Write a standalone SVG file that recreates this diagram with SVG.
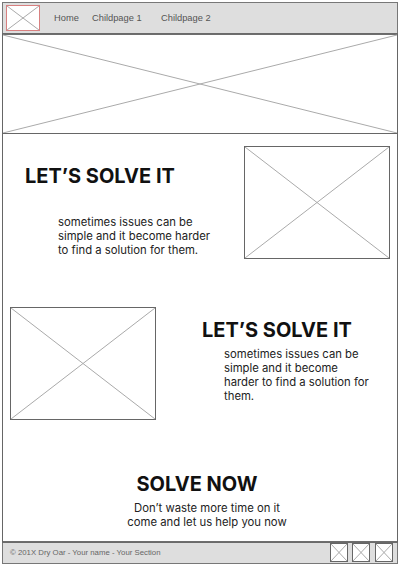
<svg xmlns="http://www.w3.org/2000/svg" width="400" height="566" viewBox="0 0 400 566">
<style>
.frame{fill:none;stroke:#666;stroke-width:1}
.bar{fill:#dedede;stroke:#777;stroke-width:1}
.ph{fill:#fff;stroke:#666;stroke-width:1}
.x{stroke:#aaa;stroke-width:1;fill:none}
.nav{font-family:"Liberation Sans",Arial,sans-serif;font-size:9.3px;fill:#555}
.h{font-family:Inter,"Liberation Sans",sans-serif;font-weight:700;font-size:20px;fill:#111}
.b{font-family:Inter,"Liberation Sans",sans-serif;font-size:11.3px;fill:#222}
.foot{font-family:"Liberation Sans",Arial,sans-serif;font-size:7.8px;fill:#666}
</style>
<rect x="0" y="0" width="400" height="566" fill="#fff"/>
<g id="page">
<rect class="frame" x="2.5" y="2.5" width="395" height="561"/>
</g>
<g id="header">
<rect class="bar" x="2.5" y="2.5" width="395" height="31.5"/>
<line x1="2.5" y1="34" x2="397.5" y2="34" stroke="#555" stroke-width="1.5"/>
<g id="logo">
<rect x="6.5" y="5.5" width="33" height="25" fill="#fff" stroke="#d88080" stroke-width="1"/>
<path class="x" d="M7 6L39 30M39 6L7 30"/>
</g>
<text class="nav" x="54" y="21">Home</text>
<text class="nav" x="92" y="21">Childpage 1</text>
<text class="nav" x="161" y="21">Childpage 2</text>
</g>
<g id="hero">
<path class="x" d="M3 35L397 133M397 35L3 133"/>
<line x1="2.5" y1="133.5" x2="397.5" y2="133.5" stroke="#666" stroke-width="1"/>
</g>
<g id="section1">
<text class="h" x="25" y="183">LET’S SOLVE IT</text>
<text class="b" x="58" y="226">sometimes issues can be</text>
<text class="b" x="58" y="240">simple and it become harder</text>
<text class="b" x="58" y="254">to find a solution for them.</text>
<g id="image1">
<rect class="ph" x="244.5" y="146.5" width="145" height="112"/>
<path class="x" d="M245 147L389 258M389 147L245 258"/>
</g>
</g>
<g id="section2">
<g id="image2">
<rect class="ph" x="10.5" y="307.5" width="145" height="112"/>
<path class="x" d="M11 308L155 419M155 308L11 419"/>
</g>
<text class="h" x="202" y="337">LET’S SOLVE IT</text>
<text class="b" x="224" y="358">sometimes issues can be</text>
<text class="b" x="224" y="372">simple and it become</text>
<text class="b" x="224" y="386">harder to find a solution for</text>
<text class="b" x="224" y="400">them.</text>
</g>
<g id="section3">
<text class="h" x="197" y="491" text-anchor="middle">SOLVE NOW</text>
<text class="b" x="207" y="512" text-anchor="middle">Don’t waste more time on it</text>
<text class="b" x="207" y="526" text-anchor="middle">come and let us help you now</text>
</g>
<g id="footer">
<rect class="bar" x="2.5" y="542" width="395" height="21.5"/>
<line x1="2.5" y1="542" x2="397.5" y2="542" stroke="#555" stroke-width="1.5"/>
<text class="foot" x="10" y="555">© 201X Dry Oar - Your name - Your Section</text>
<g id="icon1"><rect class="ph" x="330.5" y="543.5" width="17" height="18"/><path class="x" d="M331 544L347 561M347 544L331 561"/></g>
<g id="icon2"><rect class="ph" x="352.5" y="543.5" width="17" height="18"/><path class="x" d="M353 544L369 561M369 544L353 561"/></g>
<g id="icon3"><rect class="ph" x="375.5" y="543.5" width="17" height="18"/><path class="x" d="M376 544L392 561M392 544L376 561"/></g>
</g>
</svg>
